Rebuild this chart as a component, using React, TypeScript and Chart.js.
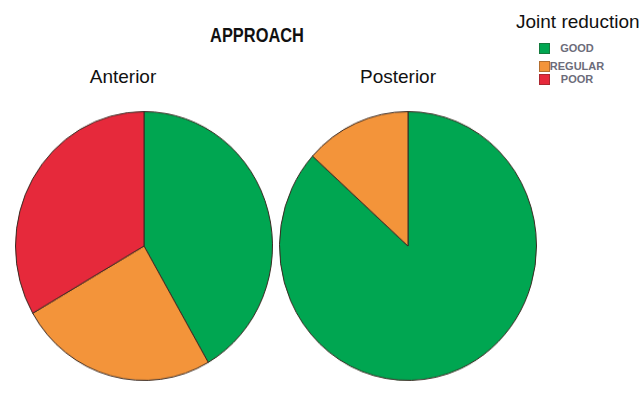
import React, { useEffect, useRef } from "react";
import { Chart, registerables } from "chart.js";

Chart.register(...registerables);

// Joint reduction outcome by surgical approach (patient counts)
const categories = ["GOOD", "REGULAR", "POOR"];
const sliceColors = ["#00a651", "#f3943a", "#e6293b"];
const anteriorCounts = [5, 3, 4];
const posteriorCounts = [13, 2, 0];
const groupNames = ["Anterior", "Posterior"];
const mainTitle = "APPROACH";
const legendTitle = "Joint reduction";

const PIE_SIZE = 258;

function PieChart({ values, left, top }: { values: number[]; left: number; top: number }) {
  const ref = useRef<HTMLCanvasElement>(null);

  useEffect(() => {
    const chart = new Chart(ref.current!, {
      type: "pie",
      data: {
        labels: categories,
        datasets: [
          {
            data: values,
            backgroundColor: sliceColors,
            borderColor: "#3a2a22",
            borderWidth: 1,
          },
        ],
      },
      options: {
        responsive: false,
        animation: false,
        events: [],
        layout: { padding: 0 },
        plugins: {
          legend: { display: false },
          tooltip: { enabled: false },
          title: { display: false },
        },
      },
    });
    return () => chart.destroy();
  }, [values]);

  return (
    <canvas
      ref={ref}
      width={PIE_SIZE}
      height={PIE_SIZE}
      style={{
        position: "absolute",
        left,
        top,
        width: PIE_SIZE,
        height: PIE_SIZE,
        transform: "scaleY(1.046)",
        transformOrigin: "50% 50%",
      }}
    />
  );
}

const textBase: React.CSSProperties = {
  position: "absolute",
  whiteSpace: "nowrap",
  fontFamily: "'Liberation Sans', Arial, sans-serif",
  color: "#111",
};

export default function App() {
  return (
    <div
      style={{
        position: "fixed",
        left: 0,
        top: 0,
        width: 643,
        height: 393,
        background: "#ffffff",
        overflow: "hidden",
      }}
    >
      {/* condensed bold heading */}
      <div
        style={{
          ...textBase,
          left: 257,
          top: 25,
          transform: "translateX(-50%) scaleX(0.8)",
          fontWeight: "bold",
          fontSize: 20.5,
          lineHeight: "20px",
        }}
      >
        {mainTitle}
      </div>

      <div style={{ ...textBase, left: 123, top: 67, transform: "translateX(-50%)", fontSize: 19, lineHeight: "19px" }}>
        {groupNames[0]}
      </div>
      <div style={{ ...textBase, left: 398, top: 67, transform: "translateX(-50%)", fontSize: 19, lineHeight: "19px" }}>
        {groupNames[1]}
      </div>

      <PieChart values={anteriorCounts} left={15} top={117} />
      <PieChart values={posteriorCounts} left={279} top={117} />

      <div style={{ ...textBase, left: 516, top: 12, fontSize: 19, lineHeight: "19px" }}>{legendTitle}</div>
      {categories.map((name, i) => {
        const cy = [48, 66, 79][i];
        return (
          <React.Fragment key={name}>
            <div
              style={{
                position: "absolute",
                left: 539,
                top: cy - 5,
                width: 11,
                height: 11,
                background: sliceColors[i],
                boxShadow: "inset 0 0 0 1px rgba(60,40,30,0.35)",
              }}
            />
            <div
              style={{
                ...textBase,
                left: 577,
                top: cy - 6,
                transform: "translateX(-50%)",
                fontSize: 11,
                lineHeight: "13px",
                fontWeight: "bold",
                color: "#6c6c7a",
              }}
            >
              {name}
            </div>
          </React.Fragment>
        );
      })}
    </div>
  );
}
